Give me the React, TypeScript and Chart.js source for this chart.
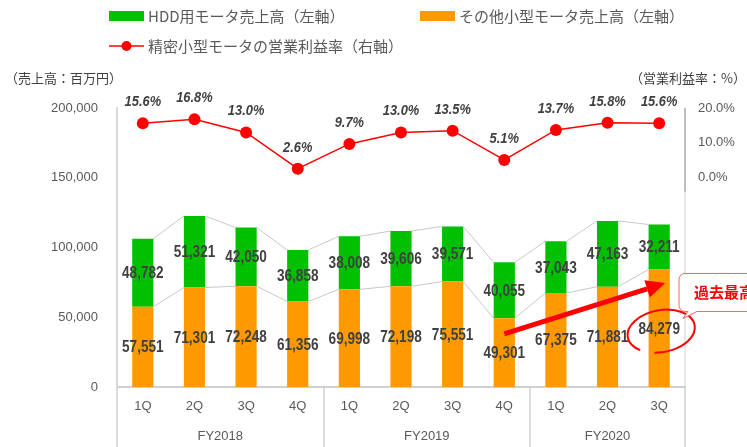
import React, { useEffect, useRef } from 'react';
import { Chart, registerables } from 'chart.js';

Chart.register(...registerables);

const quarters = ['1Q', '2Q', '3Q', '4Q', '1Q', '2Q', '3Q', '4Q', '1Q', '2Q', '3Q'];
const fiscalYears = ['FY2018', 'FY2019', 'FY2020'];
const fiscalYearSpans = [4, 4, 3];
const otherSales = [57551, 71301, 72248, 61356, 69998, 72198, 75551, 49301, 67375, 71881, 84279];
const hddSales = [48782, 51321, 42050, 36858, 38008, 39606, 39571, 40055, 37043, 47163, 32211];
const opMargin = [15.6, 16.8, 13.0, 2.6, 9.7, 13.0, 13.5, 5.1, 13.7, 15.8, 15.6];

const legendHdd = 'HDD用モータ売上高（左軸）';
const legendOther = 'その他小型モータ売上高（左軸）';
const legendMargin = '精密小型モータの営業利益率（右軸）';
const leftTitle = '（売上高：百万円）';
const rightTitle = '（営業利益率：%）';
const calloutText = '過去最高';

const GREEN = '#00C000';
const ORANGE = '#FF9900';
const RED = '#FF0000';
const JP = "'Noto Sans CJK JP', sans-serif";
const LAT = "'Liberation Sans', Arial, sans-serif";

const fmt = (v: number) => v.toLocaleString('en-US');

const overlay = {
  id: 'overlay',
  beforeDatasetsDraw(chart: any) {
    const ctx = chart.ctx;
    const mo = chart.getDatasetMeta(1).data;
    const mg = chart.getDatasetMeta(2).data;
    ctx.save();
    ctx.strokeStyle = '#C8C8C8';
    ctx.lineWidth = 1;
    [mo, mg].forEach((els: any[]) => {
      for (let j = 0; j < els.length - 1; j++) {
        const a = els[j].getProps(['x', 'y', 'width'], true);
        const b = els[j + 1].getProps(['x', 'y', 'width'], true);
        ctx.beginPath();
        ctx.moveTo(a.x + a.width / 2, a.y);
        ctx.lineTo(b.x - b.width / 2, b.y);
        ctx.stroke();
      }
    });
    ctx.restore();
  },
  afterDraw(chart: any) {
    const ctx = chart.ctx;
    const area = chart.chartArea;
    const H = chart.height;
    const y = chart.scales.y;
    const y2 = chart.scales.y2;
    ctx.save();

    // legend
    ctx.textBaseline = 'middle';
    ctx.textAlign = 'left';
    ctx.font = `15px ${JP}`;
    ctx.fillStyle = GREEN;
    ctx.fillRect(109, 11, 35, 10);
    ctx.fillStyle = '#595959';
    ctx.fillText(legendHdd, 148, 16);
    ctx.fillStyle = ORANGE;
    ctx.fillRect(420, 11, 35, 10);
    ctx.fillStyle = '#595959';
    ctx.fillText(legendOther, 459, 16);
    ctx.strokeStyle = RED;
    ctx.lineWidth = 1.5;
    ctx.beginPath();
    ctx.moveTo(109, 46);
    ctx.lineTo(144, 46);
    ctx.stroke();
    ctx.fillStyle = RED;
    ctx.beginPath();
    ctx.arc(126.5, 46, 5, 0, Math.PI * 2);
    ctx.fill();
    ctx.fillStyle = '#595959';
    ctx.fillText(legendMargin, 148, 46);

    // axis titles
    ctx.font = `13px ${JP}`;
    ctx.fillStyle = '#404040';
    ctx.fillText(leftTitle, 5, 78);
    ctx.textAlign = 'right';
    ctx.fillText(rightTitle, 746, 78);

    // category separators and fiscal year labels
    const n = quarters.length;
    const cw = (area.right - area.left) / n;
    ctx.strokeStyle = '#D0D0D0';
    ctx.lineWidth = 1.5;
    let idx = 0;
    const bounds = [0];
    fiscalYearSpans.forEach((s) => { idx += s; bounds.push(idx); });
    bounds.forEach((b) => {
      const x = Math.round(area.left + b * cw);
      ctx.beginPath();
      ctx.moveTo(x, area.bottom);
      ctx.lineTo(x, H);
      ctx.stroke();
    });
    ctx.font = `13px ${LAT}`;
    ctx.fillStyle = '#595959';
    ctx.textAlign = 'center';
    fiscalYears.forEach((fy, i) => {
      const cx = area.left + ((bounds[i] + bounds[i + 1]) / 2) * cw;
      ctx.fillText(fy, cx, area.bottom + 49);
    });

    // right axis line
    const rx = Math.round(area.right);
    ctx.strokeStyle = '#D0D0D0';
    ctx.lineWidth = 1;
    ctx.beginPath();
    ctx.moveTo(rx, y2.getPixelForValue(-4));
    ctx.lineTo(rx, area.bottom);
    ctx.stroke();
    ctx.strokeStyle = '#BFBFBF';
    ctx.lineWidth = 2;
    ctx.beginPath();
    ctx.moveTo(rx, y2.getPixelForValue(20));
    ctx.lineTo(rx, y2.getPixelForValue(-4));
    ctx.stroke();

    // bar value labels
    const mo = chart.getDatasetMeta(1).data;
    const mg = chart.getDatasetMeta(2).data;
    ctx.fillStyle = '#404040';
    ctx.textAlign = 'center';
    ctx.textBaseline = 'middle';
    const drawScaled = (text: string, x: number, yy: number, font: string, sx: number) => {
      ctx.save();
      ctx.translate(x, yy);
      ctx.scale(sx, 1);
      ctx.font = font;
      ctx.fillText(text, 0, 0);
      ctx.restore();
    };
    mo.forEach((el: any, j: number) => {
      const p = el.getProps(['x', 'y', 'base'], true);
      drawScaled(fmt(otherSales[j]), p.x, (p.y + p.base) / 2 + 1, `bold 16px ${LAT}`, 0.85);
    });
    mg.forEach((el: any, j: number) => {
      const p = el.getProps(['x', 'y', 'base'], true);
      drawScaled(fmt(hddSales[j]), p.x, (p.y + p.base) / 2 + 1, `bold 16px ${LAT}`, 0.85);
    });
    const ml = chart.getDatasetMeta(0).data;
    ml.forEach((el: any, j: number) => {
      const p = el.getProps(['x', 'y'], true);
      drawScaled(opMargin[j].toFixed(1) + '%', p.x, p.y - 21, `italic bold 14px ${LAT}`, 0.92);
    });

    // arrow
    const sx = mo[7].x;
    const sy = y.getPixelForValue(38000);
    const tx = mo[10].x + 6;
    const ty = y.getPixelForValue(74500);
    const ang = Math.atan2(ty - sy, tx - sx);
    const headL = 19;
    const headW = 9;
    const bx = tx - headL * Math.cos(ang);
    const by = ty - headL * Math.sin(ang);
    ctx.strokeStyle = RED;
    ctx.fillStyle = RED;
    ctx.lineWidth = 5;
    ctx.lineCap = 'butt';
    ctx.beginPath();
    ctx.moveTo(sx, sy);
    ctx.lineTo(bx, by);
    ctx.stroke();
    ctx.beginPath();
    ctx.moveTo(tx, ty);
    ctx.lineTo(bx + headW * Math.sin(ang), by - headW * Math.cos(ang));
    ctx.lineTo(bx - headW * Math.sin(ang), by + headW * Math.cos(ang));
    ctx.closePath();
    ctx.fill();

    // ellipse around record value
    const e = mo[10].getProps(['x', 'y', 'base'], true);
    const ecx = e.x + 2;
    const ecy = (e.y + e.base) / 2 + 3;
    ctx.lineWidth = 2;
    ctx.beginPath();
    ctx.ellipse(ecx, ecy, 34, 21, -0.18, 0.75 * Math.PI, 0.75 * Math.PI + 1.85 * Math.PI);
    ctx.stroke();

    // callout
    const bxl = area.right - 6;
    const byt = e.y + 4;
    const bh = 38;
    const r = 6;
    const bxr = chart.width + 20;
    ctx.fillStyle = '#FFFFFF';
    ctx.strokeStyle = '#FF6060';
    ctx.lineWidth = 1;
    ctx.beginPath();
    ctx.moveTo(bxl + r, byt);
    ctx.lineTo(bxr, byt);
    ctx.lineTo(bxr, byt + bh);
    ctx.lineTo(bxl + 18, byt + bh);
    ctx.lineTo(bxl + 4, byt + bh + 7);
    ctx.lineTo(bxl + 9, byt + bh);
    ctx.lineTo(bxl + r, byt + bh);
    ctx.arcTo(bxl, byt + bh, bxl, byt + bh - r, r);
    ctx.lineTo(bxl, byt + r);
    ctx.arcTo(bxl, byt, bxl + r, byt, r);
    ctx.closePath();
    ctx.fill();
    ctx.stroke();
    ctx.fillStyle = RED;
    ctx.font = `bold 15px ${JP}`;
    ctx.textAlign = 'left';
    ctx.textBaseline = 'middle';
    ctx.fillText(calloutText, bxl + 15, byt + bh / 2);

    ctx.restore();
  },
};

export default function App() {
  const ref = useRef<HTMLCanvasElement | null>(null);
  useEffect(() => {
    if (!ref.current) return;
    const chart = new Chart(ref.current, {
      type: 'bar',
      data: {
        labels: quarters,
        datasets: [
          {
            type: 'line',
            label: legendMargin,
            data: opMargin,
            yAxisID: 'y2',
            borderColor: RED,
            backgroundColor: RED,
            borderWidth: 1.5,
            pointRadius: 6,
            pointBackgroundColor: RED,
            pointBorderColor: RED,
            pointBorderWidth: 0,
            tension: 0,
            order: 0,
          } as any,
          {
            type: 'bar',
            label: legendOther,
            data: otherSales,
            backgroundColor: ORANGE,
            yAxisID: 'y',
            barPercentage: 0.41,
            categoryPercentage: 1,
            order: 1,
          },
          {
            type: 'bar',
            label: legendHdd,
            data: hddSales,
            backgroundColor: GREEN,
            yAxisID: 'y',
            barPercentage: 0.41,
            categoryPercentage: 1,
            order: 1,
          },
        ],
      },
      options: {
        responsive: false,
        devicePixelRatio: 1,
        animation: false,
        layout: { padding: { top: 108, left: 0, right: 0, bottom: 0 } },
        plugins: { legend: { display: false }, tooltip: { enabled: false }, title: { display: false } },
        scales: {
          x: {
            stacked: true,
            grid: { display: false, drawTicks: false },
            border: { display: true, color: '#D0D0D0', width: 2 },
            ticks: { color: '#595959', font: { family: LAT, size: 13 }, padding: 12, maxRotation: 0 },
            afterFit: (s: any) => { s.height = 60; },
          },
          y: {
            stacked: true,
            position: 'left',
            min: 0,
            max: 200000,
            grid: { display: false, drawTicks: false },
            border: { display: true, color: '#D9D9D9', width: 2 },
            ticks: {
              stepSize: 50000,
              color: '#595959',
              font: { family: LAT, size: 13 },
              padding: 19,
              callback: (v: any) => fmt(Number(v)),
            },
            afterFit: (s: any) => { s.width = 117; },
          },
          y2: {
            position: 'right',
            min: -60,
            max: 20,
            grid: { display: false, drawTicks: false },
            border: { display: false },
            ticks: {
              stepSize: 10,
              color: '#595959',
              font: { family: LAT, size: 13 },
              padding: 13,
              callback: (v: any) => (Number(v) >= 0 ? Number(v).toFixed(1) + '%' : ''),
            },
            afterFit: (s: any) => { s.width = 62; },
          },
        },
      },
      plugins: [overlay],
    });
    return () => chart.destroy();
  }, []);
  return (
    <div style={{ position: 'absolute', left: 0, top: 0, width: 747, height: 447, background: '#fff' }}>
      <canvas ref={ref} width={747} height={447} style={{ display: 'block' }} />
    </div>
  );
}
